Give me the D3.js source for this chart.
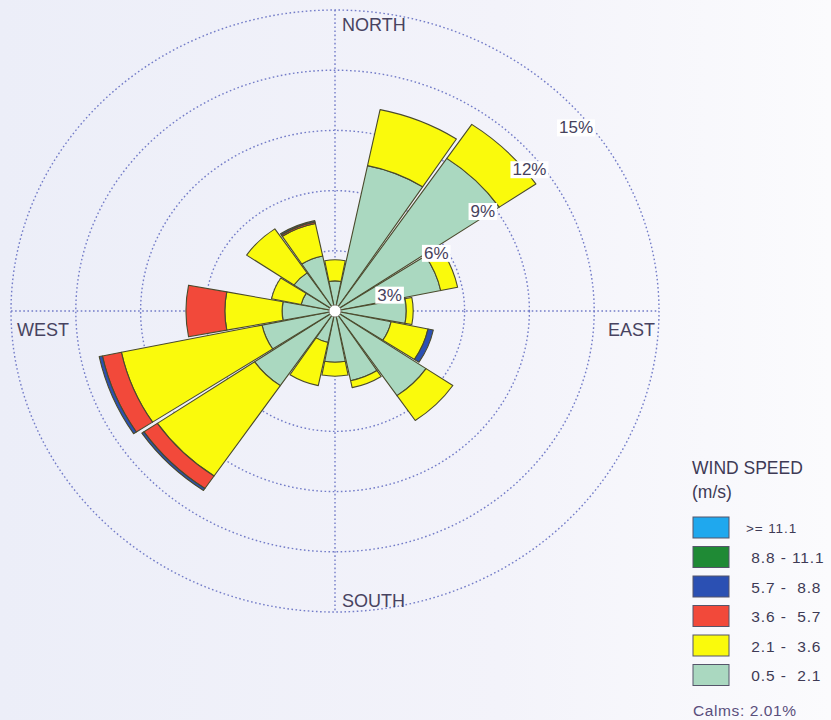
<!DOCTYPE html>
<html>
<head>
<meta charset="utf-8">
<script src="https://cdn.jsdelivr.net/npm/d3@7/dist/d3.min.js"></script>
<style>
  html, body { margin: 0; padding: 0; background: #f3f3fa; }
  svg { display: block; font-family: "Liberation Sans", Arial, sans-serif; }
  .pre { white-space: pre; }
</style>
</head>
<body>
<svg id="chart" width="831" height="720"></svg>
<script>
// Compass sectors, clockwise from north
const directions = ["N", "NNE", "NE", "ENE", "E", "ESE", "SE", "SSE",
                    "S", "SSW", "SW", "WSW", "W", "WNW", "NW", "NNW"];

// Frequency (%) of each wind-speed class per direction
const freq_05_21  = [1.5, 7.4, 9.2, 5.0, 3.3, 2.65, 5.1, 3.55, 2.55, 1.6, 4.5, 3.45, 2.45, 1.6, 2.3, 2.8];
const freq_21_36  = [1.05, 2.85, 2.05, 0.8, 0.32, 1.75, 1.5, 0.35, 0.7, 2.2, 5.45, 6.65, 2.65, 1.4, 2.65, 1.65];
const freq_36_57  = [0, 0, 0, 0, 0, 0, 0, 0, 0, 0, 0.75, 0.9, 1.8, 0, 0, 0.08];
const freq_57_88  = [0, 0, 0, 0, 0, 0.25, 0, 0, 0, 0, 0.12, 0.15, 0, 0, 0, 0.07];
const freq_88_111 = [0, 0, 0, 0, 0, 0, 0, 0, 0, 0, 0, 0, 0, 0, 0, 0];
const freq_111    = [0, 0, 0, 0, 0, 0, 0, 0, 0, 0, 0, 0, 0, 0, 0, 0];

// Speed classes, slowest first (inner to outer on each petal)
const classKeys   = ["c05", "c21", "c36", "c57", "c88", "c111"];
const classLabels = [" 0.5 -  2.1", " 2.1 -  3.6", " 3.6 -  5.7", " 5.7 -  8.8", " 8.8 - 11.1", ">= 11.1"];
const classColors = ["#aad8c0", "#fafa0c", "#f2493a", "#2b50b3", "#1f8a35", "#1fa8ee"];

// Frequency rings
const ringValues = [3, 6, 9, 12, 15];
const ringLabels = ["3%", "6%", "9%", "12%", "15%"];

const calmsLabel = "Calms: 2.01%";

// ---- layout ----
const cx = 335, cy = 311;
const squash = 0.929;          // vertical/horizontal ratio of the rose
const deg = Math.PI / 180;
const sector = 360 / directions.length;
const pad = 0.5;               // angular gap at each side of a petal (deg)

const r = d3.scaleLinear().domain([0, 15]).range([0, 324]);

const svg = d3.select("#chart");

// paper background
const defs = svg.append("defs");
const grad = defs.append("linearGradient").attr("id", "paper")
  .attr("x1", "0").attr("y1", "0").attr("x2", "1").attr("y2", "0");
grad.append("stop").attr("offset", "0").attr("stop-color", "#eceef8");
grad.append("stop").attr("offset", "0.6").attr("stop-color", "#f3f3fa");
grad.append("stop").attr("offset", "1").attr("stop-color", "#fbfbfd");
svg.append("rect").attr("width", 831).attr("height", 720).attr("fill", "url(#paper)");

// ---- grid ----
const grid = svg.append("g").attr("transform", `translate(${cx},${cy})`);
const gridStyle = sel => sel.attr("fill", "none").attr("stroke", "#737cc8")
  .attr("stroke-width", 1.4).attr("stroke-dasharray", "1.6,2.5");

grid.selectAll("ellipse.ring").data(ringValues).join("ellipse")
  .attr("class", "ring")
  .attr("rx", d => r(d)).attr("ry", d => r(d) * squash)
  .call(gridStyle);

const rMax = r(d3.max(ringValues));
grid.append("line").attr("x1", -rMax).attr("x2", rMax).attr("y1", 0).attr("y2", 0).call(gridStyle);
grid.append("line").attr("x1", 0).attr("x2", 0).attr("y1", -rMax * squash).attr("y2", rMax * squash).call(gridStyle);

// ---- petals ----
const rows = directions.map((d, i) => ({
  dir: d, idx: i,
  c05: freq_05_21[i], c21: freq_21_36[i], c36: freq_36_57[i],
  c57: freq_57_88[i], c88: freq_88_111[i], c111: freq_111[i]
}));
const series = d3.stack().keys(classKeys)(rows);

const arc = d3.arc();
const rose = svg.append("g").attr("transform", `translate(${cx},${cy}) scale(1,${squash})`);

series.forEach((s, k) => {
  rose.append("g").selectAll("path")
    .data(s.filter(d => d[1] - d[0] > 0))
    .join("path")
    .attr("d", d => arc({
      innerRadius: r(d[0]),
      outerRadius: r(d[1]),
      startAngle: (d.data.idx * sector - sector / 2 + pad) * deg,
      endAngle: (d.data.idx * sector + sector / 2 - pad) * deg
    }))
    .attr("fill", classColors[k])
    .attr("stroke", "#4a4a2c")
    .attr("stroke-width", 1.1)
    .attr("stroke-linejoin", "round")
    .attr("vector-effect", "non-scaling-stroke");
});

// calm circle at the centre
svg.append("circle").attr("cx", cx).attr("cy", cy).attr("r", 6)
  .attr("fill", "#ffffff").attr("stroke", "#8a8a80").attr("stroke-width", 1);

// ---- ring labels ----
const labelAngle = 46 * deg;
const ringLab = svg.append("g");
ringValues.forEach((v, i) => {
  const x = cx + r(v) * Math.sin(labelAngle) + 8;
  const y = cy - r(v) * squash * Math.cos(labelAngle) + 26;
  const g = ringLab.append("g");
  const t = g.append("text").attr("x", x).attr("y", y)
    .attr("text-anchor", "middle").attr("dominant-baseline", "central")
    .attr("font-size", 17).attr("fill", "#46425c")
    .text(ringLabels[i]);
  const bb = t.node().getBBox();
  g.insert("rect", "text")
    .attr("x", bb.x - 2).attr("y", bb.y + 1)
    .attr("width", bb.width + 4).attr("height", bb.height - 2)
    .attr("fill", "#ffffff");
});

// ---- compass labels ----
const compass = svg.append("g").attr("font-size", 18).attr("fill", "#474360");
compass.append("text").attr("x", cx + 7).attr("y", cy - rMax * squash + 21).text("NORTH");
compass.append("text").attr("x", cx + 7).attr("y", cy + rMax * squash - 5).text("SOUTH");
compass.append("text").attr("x", cx - rMax + 6).attr("y", cy + 25).text("WEST");
compass.append("text").attr("x", cx + rMax - 4).attr("y", cy + 25).attr("text-anchor", "end").text("EAST");

// ---- legend ----
const legend = svg.append("g").attr("fill", "#3e3a55");
legend.append("text").attr("x", 692).attr("y", 474).attr("font-size", 17.5).text("WIND SPEED");
legend.append("text").attr("x", 692).attr("y", 498).attr("font-size", 17.5).text("(m/s)");

const order = d3.range(classKeys.length).reverse();   // fastest class on top
order.forEach((k, j) => {
  const y = 517 + j * 29.5;
  legend.append("rect").attr("x", 693).attr("y", y).attr("width", 36).attr("height", 21)
    .attr("fill", classColors[k]).attr("stroke", "#55556a").attr("stroke-width", 1);
  legend.append("text").attr("class", "pre")
    .attr("x", k === classKeys.length - 1 ? 746 : 746)
    .attr("y", y + 11).attr("dominant-baseline", "central")
    .attr("font-size", k === classKeys.length - 1 ? 13.5 : 15.5)
    .attr("letter-spacing", 0.9)
    .text(classLabels[k]);
});

legend.append("text").attr("x", 693).attr("y", 716).attr("font-size", 15.5)
  .attr("letter-spacing", 0.6)
  .attr("fill", "#5a4f7c").text(calmsLabel);
</script>
</body>
</html>
